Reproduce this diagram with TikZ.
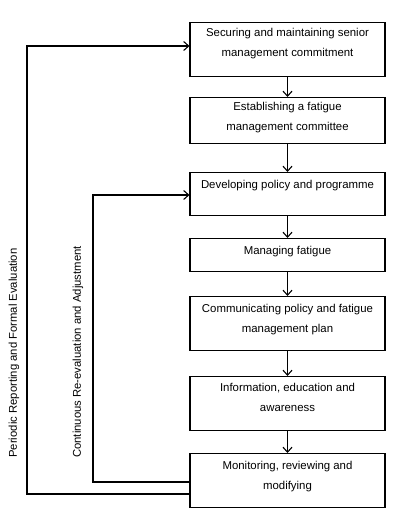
\documentclass[tikz,border=0pt]{standalone}
\usepackage{fontspec}
\setmainfont{Liberation Sans}
\usetikzlibrary{arrows.meta}
\begin{document}
\begin{tikzpicture}[x=1pt,y=-1pt,
  box/.style={draw, line width=1.1pt, minimum width=195pt, inner sep=0pt, anchor=north},
  txt/.style={align=center, inner sep=0pt, anchor=north, font=\fontsize{11.4}{20}\selectfont},
  arr/.style={line width=1.1pt, -{Straight Barb[length=5pt,width=9pt]}},
  side/.style={rotate=90, inner sep=0pt, font=\fontsize{11.3}{13}\selectfont}]
\useasboundingbox (0,0) rectangle (413,532);
\node[box, minimum height=54pt] (b1) at (287.5,22) {};
\node[box, minimum height=46pt] (b2) at (287.5,97) {};
\node[box, minimum height=43pt] (b3) at (287.5,172) {};
\node[box, minimum height=33pt] (b4) at (287.5,238) {};
\node[box, minimum height=54pt] (b5) at (287.5,296) {};
\node[box, minimum height=54pt] (b6) at (287.5,376) {};
\node[box, minimum height=54pt] (b7) at (287.5,453) {};
\node[txt] (t1) at ([yshift=-6.5pt]b1.north) {Securing and maintaining senior\\management commitment};
\node[txt] (t2) at ([yshift=-5.5pt]b2.north) {Establishing a fatigue\\management committee};
\node[txt] (t3) at ([yshift=-8pt]b3.north) {Developing policy and programme};
\node[txt] (t4) at ([yshift=-8pt]b4.north) {Managing fatigue};
\node[txt] (t5) at ([yshift=-8pt]b5.north) {Communicating policy and fatigue\\management plan};
\node[txt] (t6) at ([yshift=-7pt]b6.north) {Information, education and\\awareness};
\node[txt] (t7) at ([yshift=-8pt]b7.north) {Monitoring, reviewing and\\modifying};
\draw[arr] (b1) -- (b2);
\draw[arr] (b2) -- (b3);
\draw[arr] (b3) -- (b4);
\draw[arr] (b4) -- (b5);
\draw[arr] (b5) -- (b6);
\draw[arr] (b6) -- (b7);
\coordinate (o1) at (27,494);
\coordinate (o2) at (27,46);
\coordinate (i1) at (93,482);
\coordinate (i2) at (93,195);
\draw[arr] (b7.west |- o1) -- (o1) -- (o2) -- (b1.west |- o2);
\draw[arr] (b7.west |- i1) -- (i1) -- (i2) -- (b3.west |- i2);
\node[side] (l1) at (14,353) {Periodic Reporting and Formal Evaluation};
\node[side] (l2) at (78,352) {Continuous Re-evaluation and Adjustment};
\end{tikzpicture}
\end{document}
